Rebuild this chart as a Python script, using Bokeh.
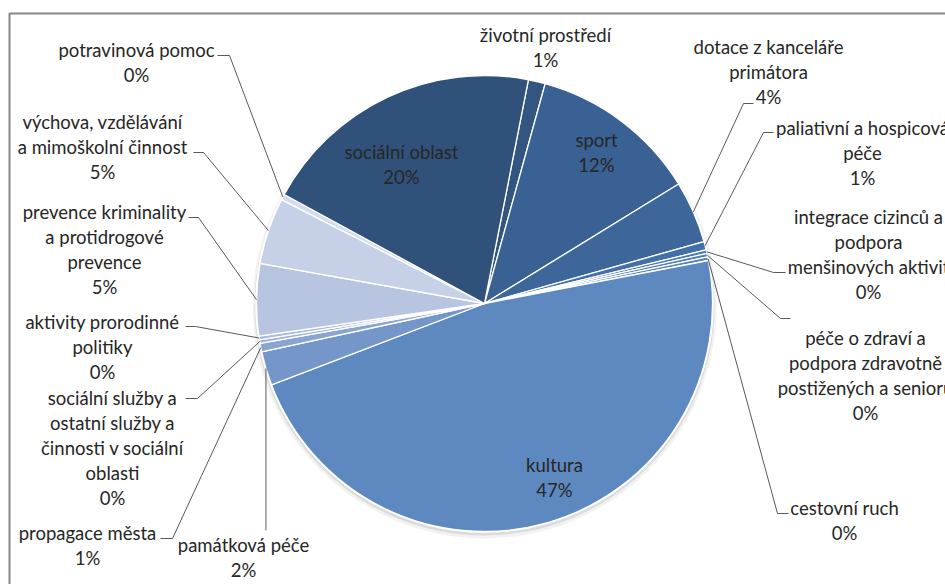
import numpy as np
from bokeh.plotting import figure
from bokeh.models import Range1d
from bokeh.core.properties import value
from bokeh.embed import file_html
from bokeh.resources import INLINE

W, H = 945, 584

# Slices in clockwise order (share of total, %)
categories = [
    "životní prostředí",
    "sport",
    "dotace z kanceláře primátora",
    "paliativní a hospicová péče",
    "integrace cizinců a podpora menšinových aktivit",
    "péče o zdraví a podpora zdravotně postižených a seniorů",
    "cestovní ruch",
    "kultura",
    "památková péče",
    "propagace města",
    "sociální služby a ostatní služby a činnosti v sociální oblasti",
    "aktivity prorodinné politiky",
    "prevence kriminality a protidrogové prevence",
    "výchova, vzdělávání a mimoškolní činnost",
    "potravinová pomoc",
    "sociální oblast",
]
shares = [1.2, 11.9, 4.4, 0.6, 0.25, 0.25, 0.25, 47.1, 2.4, 0.6, 0.25, 0.25, 5.1, 4.7, 0.4, 20.1]

colors = [
    "#335681", "#3a6193", "#3d669b", "#4470aa", "#4a78b2", "#5080b8", "#5584bc",
    "#5e88c0", "#7596c8", "#89a6d2", "#9db3d9", "#a9bcdd", "#b8c5e1", "#c6d0e6",
    "#d3dbec", "#30527a",
]

# Category names as wrapped in the data labels
label_lines = [
    ["životní prostředí"],
    ["sport"],
    ["dotace z kanceláře", "primátora"],
    ["paliativní a hospicová", "péče"],
    ["integrace cizinců a", "podpora", "menšinových aktivit"],
    ["péče o zdraví a", "podpora zdravotně", "postižených a seniorů"],
    ["cestovní ruch"],
    ["kultura"],
    ["památková péče"],
    ["propagace města"],
    ["sociální služby a", "ostatní služby a", "činnosti v sociální", "oblasti"],
    ["aktivity prorodinné", "politiky"],
    ["prevence kriminality", "a protidrogové", "prevence"],
    ["výchova, vzdělávání", "a mimoškolní činnost"],
    ["potravinová pomoc"],
    ["sociální oblast"],
]

# Page layout (pixels from the top-left corner)
CX, CY, R = 484, 303, 228
START_DEG = 11.1          # first slice begins this far clockwise from 12 o'clock
LINE_STEP = 25

# label block: centre x, centre y of first line
label_pos = [
    (545, 34), (596, 139), (768, 46), (862, 127), (868, 216), (865, 337),
    (844, 507), (554, 464), (243, 544), (87, 532), (112, 397), (102, 321),
    (104, 211), (102, 121), (136, 49), (401, 151),
]
# leader: elbow x, elbow y, end of the short tick at the label
leaders = [
    None, None, (743, 103, 753), (763, 132, 773), (773, 272, 785), (780, 318, 790),
    (777, 513, 788), None, (None, 530, None), (172, 538, 160), (197, 398, 185),
    (195, 326, 185), (198, 217, 188), (203, 152, 193), (229, 55, 217), None,
]

TEXT_FONT = value("Lato")
TEXT_COLOR = "#262626"


def fy(y):
    return H - y


vals = np.array(shares, dtype=float)
pct = vals / vals.sum() * 100.0
span = pct / 100.0 * 360.0
c_end = START_DEG + np.cumsum(span)
c_start = c_end - span
c_mid = (c_start + c_end) / 2.0

p = figure(width=W, height=H, x_range=Range1d(0, W), y_range=Range1d(0, H),
           x_axis_type=None, y_axis_type=None, toolbar_location=None,
           output_backend="svg", min_border=0)
p.outline_line_color = None
p.background_fill_color = "white"
p.border_fill_color = "white"
p.grid.visible = False

# chart frame (right and bottom sides fall outside the page)
p.line(x=[9, 9, W + 20], y=[fy(H + 20), fy(13), fy(13)], line_color="#878787", line_width=2)

# soft shadow and white rim behind the pie
p.circle(x=[CX], y=[fy(CY + 3)], radius=R + 4, fill_color="#808080", fill_alpha=0.10, line_color=None)
p.circle(x=[CX], y=[fy(CY + 2)], radius=R + 2, fill_color="#808080", fill_alpha=0.20, line_color=None)
p.circle(x=[CX], y=[fy(CY)], radius=R + 1.3, fill_color="white", line_color=None)

p.wedge(x=CX, y=fy(CY), radius=R,
        start_angle=np.radians(90.0 - c_end), end_angle=np.radians(90.0 - c_start),
        direction="anticlock", fill_color=colors, line_color="white", line_width=1.3)

# leader lines from slice edge to label
for i, ld in enumerate(leaders):
    if ld is None:
        continue
    sx = CX + R * np.sin(np.radians(c_mid[i]))
    sy = CY - R * np.cos(np.radians(c_mid[i]))
    ex, ey, tx = ld
    if ex is None:
        ex = sx
        tx = sx
    p.line(x=[sx, ex, tx], y=[fy(sy), fy(ey), fy(ey)], line_color="#595959", line_width=1)

# data labels: wrapped name + rounded percentage
xs, ys, txt = [], [], []
for i, lines in enumerate(label_lines):
    lx, ly = label_pos[i]
    rows = lines + [f"{int(np.floor(pct[i] + 0.5))}%"]
    for k, row in enumerate(rows):
        xs.append(lx)
        ys.append(fy(ly + k * LINE_STEP))
        txt.append(row)

p.text(x=xs, y=ys, text=txt, text_font=TEXT_FONT, text_font_size="18.5px",
       text_align="center", text_baseline="middle", text_color=TEXT_COLOR)

open("out.html", "w").write(file_html(p, INLINE))
